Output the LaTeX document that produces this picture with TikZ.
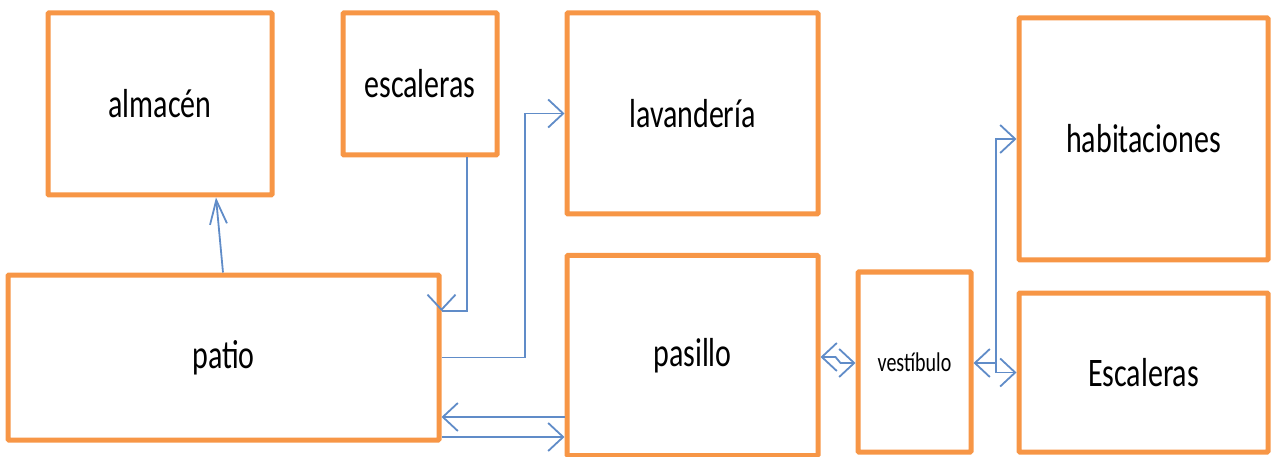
\documentclass[tikz,border=0pt]{standalone}
\usepackage{fontspec}
\usepackage{graphicx}
\setmainfont{Carlito}
\usetikzlibrary{arrows.meta}
\definecolor{boxorange}{RGB}{247,150,70}
\definecolor{linkblue}{RGB}{96,140,200}
\newcommand{\tallt}[1]{\scalebox{1}[1.35]{#1}}
\tikzset{
  room/.style={draw=boxorange, line width=5pt, rounded corners=1pt, fill=white,
    inner sep=0pt, font=\fontsize{30}{30}\selectfont},
  smallroom/.style={room, font=\fontsize{20}{20}\selectfont},
  conn/.style={draw=linkblue, line width=1.8pt},
  tip/.tip={Straight Barb[length=15pt,width=28pt,line width=1.8pt]},
  uptip/.tip={Straight Barb[length=24pt,width=17pt,line width=1.8pt]}
}
\begin{document}
\begin{tikzpicture}[x=1pt,y=-1pt]
\useasboundingbox (0,0) rectangle (1272,457);
% rooms
\node[room, minimum width=224pt, minimum height=182pt] (alm) at (160,104) {\tallt{almacén}};
\node[room, minimum width=154pt, minimum height=142pt] (esc) at (420,84) {\tallt{escaleras}};
\node[room, minimum width=251pt, minimum height=201pt] (lav) at (692.5,113.5) {\tallt{lavandería}};
\node[room, minimum width=249pt, minimum height=242pt] (hab) at (1143.5,139) {\tallt{habitaciones}};
\node[room, minimum width=431pt, minimum height=165pt] (pat) at (223.5,357.5) {\raisebox{-3pt}{\tallt{patio}}};
\node[room, minimum width=251pt, minimum height=200pt] (pas) at (692.5,355.5) {\raisebox{-3pt}{\tallt{pasillo}}};
\node[smallroom, minimum width=113pt, minimum height=180pt] (ves) at (914.5,362) {\tallt{vestíbulo}};
\node[room, minimum width=249pt, minimum height=159pt] (Esc) at (1143.5,372.5) {\tallt{Escaleras}};
% helper coordinates
\coordinate (xlav) at (525,0);
\coordinate (xesc) at (467,0);
\coordinate (xves) at (996,0);
\coordinate (y311) at (0,311);
\coordinate (y417) at (0,417);
\coordinate (y437) at (0,437);
\coordinate (y357) at (0,357);
\coordinate (y363) at (0,363);
% patio -> almacen
\draw[conn, -{uptip}] ([xshift=-0.5pt]pat.north) -- ([xshift=56pt]alm.south);
% escaleras -> patio
\coordinate (kesc) at (pat.east |- y311);
\draw[conn] (esc.south -| xesc) -- (xesc |- y311) -- (kesc);
\draw[conn, -{tip}] ([yshift=3pt]kesc) -- (kesc);
% patio -> lavanderia
\draw[conn, -{tip}] (pat.east) -- (pat.east -| xlav) |- (lav.west);
% pasillo <-> patio
\draw[conn, -{tip}] (pas.west |- y417) -- (pat.east |- y417);
\draw[conn, -{tip}] (pat.east |- y437) -- (pas.west |- y437);
% pasillo <-> vestibulo
\draw[conn, {tip}-{tip}] (pas.east |- y357) -- ++(15,0) -- ++(5,6) -- (ves.west |- y363);
% vestibulo <-> habitaciones / Escaleras
\draw[conn, {tip}-{tip}] (ves.east |- y363) -- (xves |- y363) |- (hab.west);
\draw[conn, -{tip}] (xves |- y363) |- (Esc.west);
\end{tikzpicture}
\end{document}
